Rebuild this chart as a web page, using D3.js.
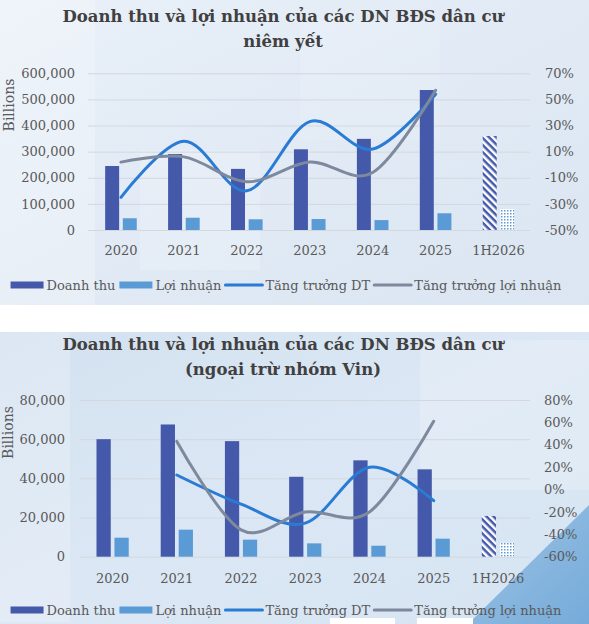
<!DOCTYPE html>
<html>
<head>
<meta charset="utf-8">
<script src="https://cdn.jsdelivr.net/npm/d3@7/dist/d3.min.js"></script>
<style>
html,body{margin:0;padding:0;background:#fff;}
svg{display:block;}
text{font-family:"DejaVu Serif",serif;}
</style>
</head>
<body>
<svg id="c" width="589" height="624"></svg>
<script>
// ---------- DATA ----------
const categories = ["2020","2021","2022","2023","2024","2025","1H2026"];
const growthYears = ["2020","2021","2022","2023","2024","2025"];

// Chart 1: all listed residential developers (billion VND)
const revenue1 = [245000, 291000, 234000, 309000, 349000, 536000, 360000];
const profit1  = [45000, 47000, 41000, 42000, 38000, 64000, 80000];
const revGrowth1 = [-0.25, 0.18, -0.20, 0.33, 0.12, 0.54];
const profGrowth1 = [0.02, 0.06, -0.13, 0.02, -0.06, 0.57];
const leftTicks1 = [0,100000,200000,300000,400000,500000,600000];
const rightTicks1 = [-0.5,-0.3,-0.1,0.1,0.3,0.5,0.7];

// Chart 2: excluding Vin group
const revenue2 = [60000, 67500, 59000, 40800, 49200, 44600, 20800];
const profit2  = [9700, 13800, 8700, 6800, 5600, 9200, 7100];
const revGrowth2 = [null, 0.13, -0.13, -0.30, 0.20, -0.10];
const profGrowth2 = [null, 0.43, -0.36, -0.20, -0.20, 0.61];
const leftTicks2 = [0,20000,40000,60000,80000];
const rightTicks2 = [-0.6,-0.4,-0.2,0,0.2,0.4,0.6,0.8];

const legendLabels = ["Doanh thu","Lợi nhuận","Tăng trưởng DT","Tăng trưởng lợi nhuận"];
const title1 = ["Doanh thu và lợi nhuận của các DN BĐS dân cư","niêm yết"];
const title2 = ["Doanh thu và lợi nhuận của các DN BĐS dân cư","(ngoại trừ nhóm Vin)"];

// ---------- STYLE ----------
const C_REV = "#4459a9", C_PROF = "#5b9bd5", C_GDT = "#2a7bd3", C_GLN = "#7e899d";
const C_TXT = "#595959", C_TITLE = "#404040", C_GRID = "#d3d8df";

const svg = d3.select("#c");
const defs = svg.append("defs");

// backgrounds
const g1 = defs.append("linearGradient").attr("id","bg1").attr("x1","0").attr("x2","1").attr("y1","0").attr("y2","1");
g1.append("stop").attr("offset","0").attr("stop-color","#e9f0f8");
g1.append("stop").attr("offset","0.5").attr("stop-color","#e1eaf5");
g1.append("stop").attr("offset","1").attr("stop-color","#dbe6f2");
const g2 = defs.append("linearGradient").attr("id","bg2").attr("x1","0").attr("x2","1").attr("y1","0").attr("y2","1");
g2.append("stop").attr("offset","0").attr("stop-color","#d3e1f0");
g2.append("stop").attr("offset","0.5").attr("stop-color","#dbe7f4");
g2.append("stop").attr("offset","1").attr("stop-color","#d6e4f2");
const g3 = defs.append("linearGradient").attr("id","corner").attr("x1","0").attr("x2","1").attr("y1","0").attr("y2","1");
g3.append("stop").attr("offset","0").attr("stop-color","#9cc3e6");
g3.append("stop").attr("offset","1").attr("stop-color","#76abd9");

// patterns
const hatch = defs.append("pattern").attr("id","hatch").attr("patternUnits","userSpaceOnUse")
  .attr("width",5).attr("height",5).attr("patternTransform","rotate(45)");
hatch.append("rect").attr("width",5).attr("height",5).attr("fill","#ffffff");
hatch.append("rect").attr("width",5).attr("height",2.5).attr("fill",C_REV);
const dots = defs.append("pattern").attr("id","dots").attr("patternUnits","userSpaceOnUse")
  .attr("width",3).attr("height",3);
dots.append("rect").attr("width",3).attr("height",3).attr("fill","#ffffff");
dots.append("rect").attr("width",1.5).attr("height",1.5).attr("fill",C_PROF);

svg.append("rect").attr("x",0).attr("y",0).attr("width",589).attr("height",305).attr("fill","url(#bg1)");
svg.append("rect").attr("x",0).attr("y",332).attr("width",589).attr("height",292).attr("fill","url(#bg2)");
// soft texture patches
[[0,0,95,305,0.25],[140,150,120,120,0.18],[300,20,140,120,0.12],[0,332,70,290,0.22],[420,340,169,150,0.2]].forEach(p=>{
  svg.append("rect").attr("x",p[0]).attr("y",p[1]).attr("width",p[2]).attr("height",p[3]).attr("fill","#ffffff").attr("opacity",p[4]);
});
svg.append("polygon").attr("points","589,505 589,624 468,624").attr("fill","url(#corner)");
svg.append("rect").attr("x",330).attr("y",618).attr("width",65).attr("height",6).attr("fill","#ffffff");
svg.append("rect").attr("x",417).attr("y",618).attr("width",56).attr("height",6).attr("fill","#ffffff");

const pct = v => Math.round(v*100) + "%";

function drawChart(cfg){
  const g = svg.append("g");
  // title
  cfg.title.forEach((t,i)=>{
    g.append("text").attr("x",283).attr("y",cfg.titleY[i]).attr("text-anchor","middle")
      .attr("dominant-baseline","central").attr("font-weight","bold").attr("font-size",16.5)
      .attr("fill",C_TITLE).text(t);
  });
  const x = d3.scaleBand().domain(categories).range([cfg.x0, cfg.x1]);
  const yL = d3.scaleLinear().domain(cfg.leftDomain).range([cfg.yBottom, cfg.yTop]);
  const yR = d3.scaleLinear().domain(cfg.rightDomain).range([cfg.yBottom, cfg.yTop]);
  const bw = x.bandwidth();

  // left axis with gridlines
  const la = g.append("g").attr("transform",`translate(${cfg.gridX0},0)`)
    .call(d3.axisLeft(yL).tickValues(cfg.leftTicks).tickFormat(d3.format(",")).tickSize(-(cfg.x1-cfg.gridX0)).tickPadding(cfg.leftPad));
  la.select(".domain").remove();
  la.selectAll("line").attr("stroke",C_GRID).attr("stroke-width",1);
  la.selectAll("text").attr("fill",C_TXT).attr("font-size",13).attr("font-family","DejaVu Serif");

  // right axis
  const ra = g.append("g").attr("transform",`translate(${cfg.x1},0)`)
    .call(d3.axisRight(yR).tickValues(cfg.rightTicks).tickFormat(pct).tickSize(0).tickPadding(cfg.rightPad));
  ra.select(".domain").remove();
  ra.selectAll("text").attr("fill",C_TXT).attr("font-size",13).attr("font-family","DejaVu Serif");

  // x axis
  const xa = g.append("g").attr("transform",`translate(0,${cfg.yBottom})`)
    .call(d3.axisBottom(x).tickSize(0).tickPadding(cfg.xPad));
  xa.select(".domain").remove();
  xa.selectAll("text").attr("fill",C_TXT).attr("font-size",13).attr("font-family","DejaVu Serif");

  // Billions
  g.append("text").attr("transform",`translate(${cfg.billX},${cfg.billY}) rotate(-90)`)
    .attr("text-anchor","middle").attr("dominant-baseline","central")
    .attr("font-size",14).attr("fill",C_TXT).text("Billions");

  // bars
  const w = bw*0.222, gap = bw*0.058;
  const off = (bw - 2*w - gap)/2;
  const last = categories.length-1;
  g.selectAll(".rev").data(cfg.revenue).join("rect")
    .attr("x",(d,i)=>x(categories[i])+off).attr("width",w)
    .attr("y",d=>yL(d)).attr("height",d=>yL(0)-yL(d))
    .attr("fill",(d,i)=> i===last ? "url(#hatch)" : C_REV);
  g.selectAll(".prof").data(cfg.profit).join("rect")
    .attr("x",(d,i)=>x(categories[i])+off+w+gap).attr("width",w)
    .attr("y",d=>yL(d)).attr("height",d=>yL(0)-yL(d))
    .attr("fill",(d,i)=> i===last ? "url(#dots)" : C_PROF);

  // lines
  const line = d3.line()
    .defined(d=>d.v!==null)
    .x(d=>x(d.c)+bw/2).y(d=>yR(d.v))
    .curve(d3.curveCardinal.tension(0));
  const mk = arr => arr.map((v,i)=>({c:growthYears[i],v})).filter(d=>d.v!==null);
  g.append("path").attr("d",line(mk(cfg.revGrowth))).attr("fill","none")
    .attr("stroke",C_GDT).attr("stroke-width",3).attr("stroke-linecap","round");
  g.append("path").attr("d",line(mk(cfg.profGrowth))).attr("fill","none")
    .attr("stroke",C_GLN).attr("stroke-width",3).attr("stroke-linecap","round");

  // legend
  const lg = g.append("g");
  let cx = 0;
  legendLabels.forEach((lab,i)=>{
    const it = lg.append("g");
    const sw = i<2 ? 33 : 37;
    if(i<2){
      it.append("rect").attr("x",0).attr("y",cfg.legY-3.5).attr("width",sw).attr("height",7)
        .attr("fill", i===0 ? C_REV : C_PROF);
    } else {
      it.append("line").attr("x1",0).attr("x2",sw).attr("y1",cfg.legY).attr("y2",cfg.legY)
        .attr("stroke", i===2 ? C_GDT : C_GLN).attr("stroke-width",3).attr("stroke-linecap","round");
    }
    const t = it.append("text").attr("x",sw+3).attr("y",cfg.legY).attr("dominant-baseline","central")
      .attr("font-size",13).attr("fill",C_TXT).text(lab);
    const tw = t.node().getComputedTextLength();
    it.attr("transform",`translate(${cx},0)`);
    cx += sw + 3 + tw + 4;
  });
  const total = cx - 4;
  lg.attr("transform",`translate(${286 - total/2},0)`);
}

drawChart({
  title:title1, titleY:[16,41.7],
  x0:89.5, x1:530, gridX0:88, yTop:73.3, yBottom:230,
  leftDomain:[0,600000], rightDomain:[-0.5,0.7],
  leftTicks:leftTicks1, rightTicks:rightTicks1,
  leftPad:13, rightPad:15, xPad:15.4,
  billX:9, billY:105, legY:285,
  revenue:revenue1, profit:profit1, revGrowth:revGrowth1, profGrowth:profGrowth1
});
drawChart({
  title:title2, titleY:[344,369.3],
  x0:80.5, x1:530, gridX0:80, yTop:400, yBottom:556.7,
  leftDomain:[0,80000], rightDomain:[-0.6,0.8],
  leftTicks:leftTicks2, rightTicks:rightTicks2,
  leftPad:15, rightPad:14, xPad:16.7,
  billX:7.5, billY:432.5, legY:610,
  revenue:revenue2, profit:profit2, revGrowth:revGrowth2, profGrowth:profGrowth2
});
</script>
</body>
</html>
